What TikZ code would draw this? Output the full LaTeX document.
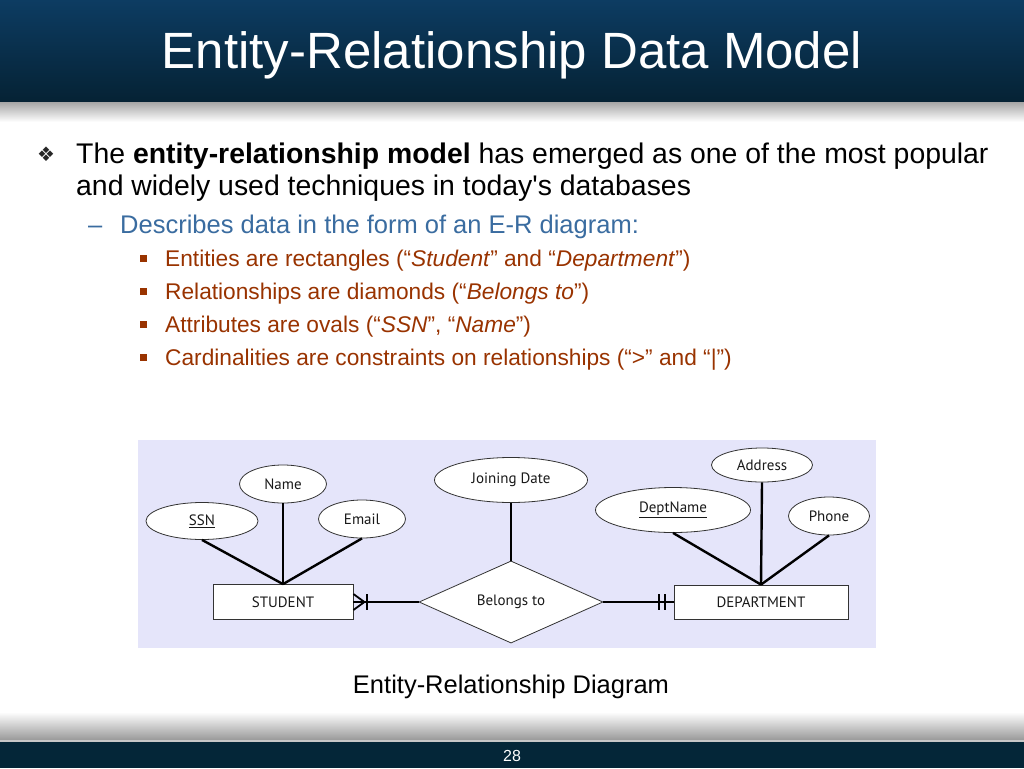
\documentclass[tikz,border=0pt]{standalone}
\usepackage{fontspec}
\setmainfont{Liberation Sans}
\newfontfamily\erfont{PT Sans}
\newfontfamily\symfont{DejaVu Sans}
\usetikzlibrary{shapes.geometric}

\definecolor{barblue}{RGB}{13,60,98}
\definecolor{bardark}{RGB}{5,34,52}
\definecolor{subblue}{RGB}{58,108,160}
\definecolor{rust}{RGB}{153,51,0}
\definecolor{panel}{RGB}{229,229,250}
\definecolor{footdark}{RGB}{4,38,56}

\begin{document}
\begin{tikzpicture}
  [x=1pt,y=-1pt,
   txt/.style={anchor=base west,inner sep=0},
   sqbullet/.style={fill=rust,minimum size=7pt,inner sep=0},
   erfnt/.style={font=\erfont\fontsize{15}{16}\selectfont,text=black!90},
   attr/.style={ellipse,draw=black!80,line width=.8pt,fill=white,inner sep=0,erfnt},
   ent/.style={rectangle,draw=black!80,line width=.8pt,fill=white,inner sep=0,erfnt},
   rel/.style={diamond,draw=black!80,line width=.8pt,fill=white,inner sep=0,erfnt},
   link/.style={line width=2.4pt}]
  \useasboundingbox (0,0) rectangle (1024,768);
  \fill[white] (0,0) rectangle (1024,768);

  % title bar
  \shade[top color=barblue,bottom color=bardark] (0,0) rectangle (1024,102);
  \shade[top color=black!35,bottom color=white] (0,102) rectangle (1024,122);
  \node[anchor=base,inner sep=0,text=white,font=\fontsize{51}{56}\selectfont] (title) at (512,68) {Entity-Relationship Data Model};

  % bullets
  \node[text=black!85,font=\symfont\fontsize{20}{20}\selectfont] (star) at (46,154) {❖};
  \node[txt,font=\fontsize{28.4}{32}\selectfont] (l1) at (76,163) {The \textbf{entity-relationship model} has emerged as one of the most popular};
  \node[txt,font=\fontsize{28.4}{32}\selectfont] (l2) at (76,195) {and widely used techniques in today\textquotesingle s databases};
  \node[txt,text=subblue,font=\fontsize{25.5}{30}\selectfont] (dash) at (88,233) {–};
  \node[txt,text=subblue,font=\fontsize{25.5}{30}\selectfont] (l3) at (120,233) {Describes data in the form of an E-R diagram:};
  \foreach \i/\y in {1/258,2/291,3/324,4/357}
    \node[sqbullet] (sq\i) at (143,\y) {};
  \begin{scope}[every node/.style={txt,text=rust,font=\fontsize{22.7}{26}\selectfont}]
    \node (s1) at (165,266) {Entities are rectangles (“\textit{Student}” and “\textit{Department}”)};
    \node (s2) at (165,299) {Relationships are diamonds (“\textit{Belongs to}”)};
    \node (s3) at (165,332) {Attributes are ovals (“\textit{SSN}”, “\textit{Name}”)};
    \node (s4) at (165,365) {Cardinalities are constraints on relationships (“>” and “|”)};
  \end{scope}

  % diagram
  \fill[panel] (138,440) rectangle (876,648);
  \node[attr,minimum width=112pt,minimum height=37pt] (ssn) at (202,521) {\underline{SSN}};
  \node[attr,minimum width=87pt,minimum height=38pt] (name) at (283,484) {Name};
  \node[attr,minimum width=87pt,minimum height=38pt] (email) at (362,519) {Email};
  \node[ent,minimum width=140pt,minimum height=35pt] (stud) at (283,602) {STUDENT};
  \node[attr,minimum width=153pt,minimum height=45pt] (jdate) at (511,480) {Joining Date};
  \node[rel,minimum width=184pt,minimum height=69pt] (belongs) at (511,602) {Belongs to};
  \node[attr,minimum width=155pt,minimum height=45pt] (dname) at (673,510) {\underline{DeptName}};
  \node[attr,minimum width=101pt,minimum height=34pt] (addr) at (762,465) {Address};
  \node[attr,minimum width=81pt,minimum height=38pt] (phone) at (829,516) {Phone};
  \node[ent,minimum width=174pt,minimum height=34pt] (dept) at (761,602) {DEPARTMENT};

  \foreach \from/\to in {ssn/stud,name/stud,email/stud,dname/dept,addr/dept,phone/dept,jdate/belongs}
    \draw[link] (\from.south) -- (\to.north);

  % cardinalities
  \draw[link] (belongs.west) -- (stud.east);
  \draw[line width=1.8pt] ([xshift=11pt]stud.east) -- ([yshift=8pt]stud.east)
    ([xshift=11pt]stud.east) -- ([yshift=-8pt]stud.east);
  \draw[line width=2pt] ([xshift=14pt,yshift=8pt]stud.east) -- ([xshift=14pt,yshift=-8pt]stud.east);
  \draw[link] (belongs.east) -- (dept.west);
  \foreach \dx in {-15,-9}
    \draw[line width=2pt] ([xshift=\dx pt,yshift=8pt]dept.west) -- ([xshift=\dx pt,yshift=-8pt]dept.west);

  \node[anchor=base,inner sep=0,font=\fontsize{25.5}{30}\selectfont] (cap) at (511,693) {Entity-Relationship Diagram};

  % footer
  \shade[top color=white,bottom color=black!40] (0,712) rectangle (1024,740);
  \fill[black!22] (0,740) rectangle (1024,742);
  \fill[footdark] (0,742) rectangle (1024,768);
  \node[text=white,font=\fontsize{16}{16}\selectfont] (pnum) at (512,756) {28};
\end{tikzpicture}
\end{document}
